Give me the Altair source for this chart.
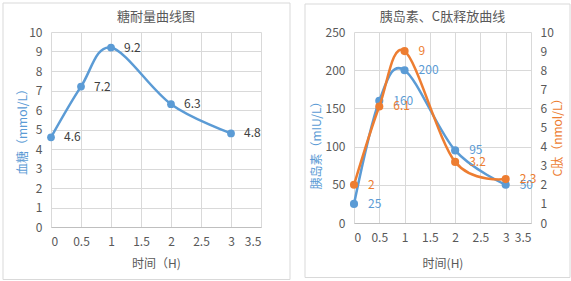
import altair as alt
import pandas as pd

FONT = "Noto Sans CJK SC"
BLUE = "#5B9BD5"
ORANGE = "#ED7D31"
GRID = "#D9D9D9"
TEXT = "#595959"
LABEL = "#404040"

# Oral glucose tolerance test
ogtt_hours = [0, 0.5, 1, 2, 3]
glucose = [4.6, 7.2, 9.2, 6.3, 4.8]

# Insulin and C-peptide release test
release_hours = [0, 0.5, 1, 2, 3]
insulin = [25, 160, 200, 95, 50]
c_peptide = [2, 6.1, 9, 3.2, 2.3]

# Axis ticks
hour_ticks = [0, 0.5, 1, 1.5, 2, 2.5, 3, 3.5]
glucose_ticks = [0, 1, 2, 3, 4, 5, 6, 7, 8, 9, 10]
insulin_ticks = [0, 50, 100, 150, 200, 250]
cpep_ticks = [0, 1, 2, 3, 4, 5, 6, 7, 8, 9, 10]


def panel_frame(w, h, left, right, top, bottom):
    """Light grey border drawn around a whole panel."""
    return alt.Chart(alt.Data(values=[{}])).mark_rect(
        fill="transparent", stroke=GRID, strokeWidth=1
    ).encode(
        x=alt.value(-left), x2=alt.value(w + right),
        y=alt.value(-top), y2=alt.value(h + bottom),
    )


def hour_axis(title, title_y):
    return alt.X(
        "h:Q",
        scale=alt.Scale(domain=[0, 3.5], nice=False, zero=False),
        axis=alt.Axis(
            values=hour_ticks, format="~g", title=title, grid=True,
            domain=True, domainColor="#BFBFBF",
            titleY=title_y, titleBaseline="middle",
        ),
    )


# ---------- left panel: glucose tolerance curve ----------
W1, H1 = 210, 195
glu_df = pd.DataFrame({"h": ogtt_hours, "v": glucose})

glu_base = alt.Chart(glu_df).encode(
    x=hour_axis("时间（H)", 36.5),
    y=alt.Y(
        "v:Q",
        scale=alt.Scale(domain=[0, 10], nice=False),
        axis=alt.Axis(
            values=glucose_ticks, title="血糖（mmol/L）", titleColor=BLUE,
            titleAngle=270, titleBaseline="middle", titleX=-28.5, titleY=96.5,
        ),
    ),
)

left = alt.layer(
    panel_frame(W1, H1, 48, 29, 29, 52.5),
    glu_base.mark_line(interpolate="cardinal", color=BLUE, strokeWidth=2.5),
    glu_base.mark_circle(size=60, color=BLUE, opacity=1),
    glu_base.mark_text(align="left", baseline="middle", dx=13, fontSize=12,
                       font=FONT, color=LABEL).encode(text=alt.Text("v:Q", format="~g")),
).properties(
    width=W1, height=H1,
    title=alt.TitleParams("糖耐量曲线图", fontSize=13, font=FONT, color=TEXT,
                          fontWeight="normal", frame="group", anchor="middle", offset=-21),
)

# ---------- right panel: insulin / C-peptide release ----------
W2, H2 = 177, 191
rel_df = pd.DataFrame({"h": release_hours, "ins": insulin, "cp": c_peptide})

ins_base = alt.Chart(rel_df).encode(
    x=hour_axis("时间(H)", 40.5),
    y=alt.Y(
        "ins:Q",
        scale=alt.Scale(domain=[0, 250], nice=False),
        axis=alt.Axis(
            values=insulin_ticks, title="胰岛素（mIU/L）", titleColor=BLUE,
            titleAngle=270, titleBaseline="middle", titleX=-38, titleY=110,
        ),
    ),
)
cp_base = alt.Chart(rel_df).encode(
    x=hour_axis("时间(H)", 40.5),
    y=alt.Y(
        "cp:Q",
        scale=alt.Scale(domain=[0, 10], nice=False),
        axis=alt.Axis(
            values=cpep_ticks, orient="right", grid=False,
            title="C肽（nmol/L）", titleColor=ORANGE,
            titleAngle=270, titleBaseline="middle", titleX=26.5, titleY=102,
        ),
    ),
)

ins_layer = alt.layer(
    ins_base.mark_line(interpolate="cardinal", color=BLUE, strokeWidth=2.5),
    ins_base.mark_circle(size=66, color=BLUE, opacity=1),
    ins_base.mark_text(align="left", baseline="middle", dx=14, fontSize=12,
                       font=FONT, color=BLUE).encode(text=alt.Text("ins:Q", format="~g")),
)
cp_layer = alt.layer(
    cp_base.mark_line(interpolate="cardinal", color=ORANGE, strokeWidth=2.5),
    cp_base.mark_circle(size=66, color=ORANGE, opacity=1),
    cp_base.mark_text(align="left", baseline="middle", dx=14, fontSize=12,
                      font=FONT, color=ORANGE).encode(text=alt.Text("cp:Q", format="~g")),
)

right = alt.layer(
    panel_frame(W2, H2, 49, 39, 28, 54.5),
    ins_layer,
    cp_layer,
).resolve_scale(y="independent").properties(
    width=W2, height=H2,
    title=alt.TitleParams("胰岛素、C肽释放曲线", fontSize=13, font=FONT, color=TEXT,
                          fontWeight="normal", frame="group", anchor="middle", offset=-20),
)

chart = alt.hconcat(left, right, spacing=13).properties(
    padding={"left": 2, "top": 2, "right": 0, "bottom": 0},
    background="white",
).configure_view(
    stroke="transparent"
).configure_axis(
    labelFont=FONT, labelFontSize=12, labelColor=TEXT, labelPadding=9,
    titleFont=FONT, titleFontSize=12, titleFontWeight="normal", titleColor=TEXT,
    gridColor=GRID, gridWidth=1, ticks=False, domain=False,
)

chart.save("out.html", embed_options={"renderer": "svg", "actions": False})
